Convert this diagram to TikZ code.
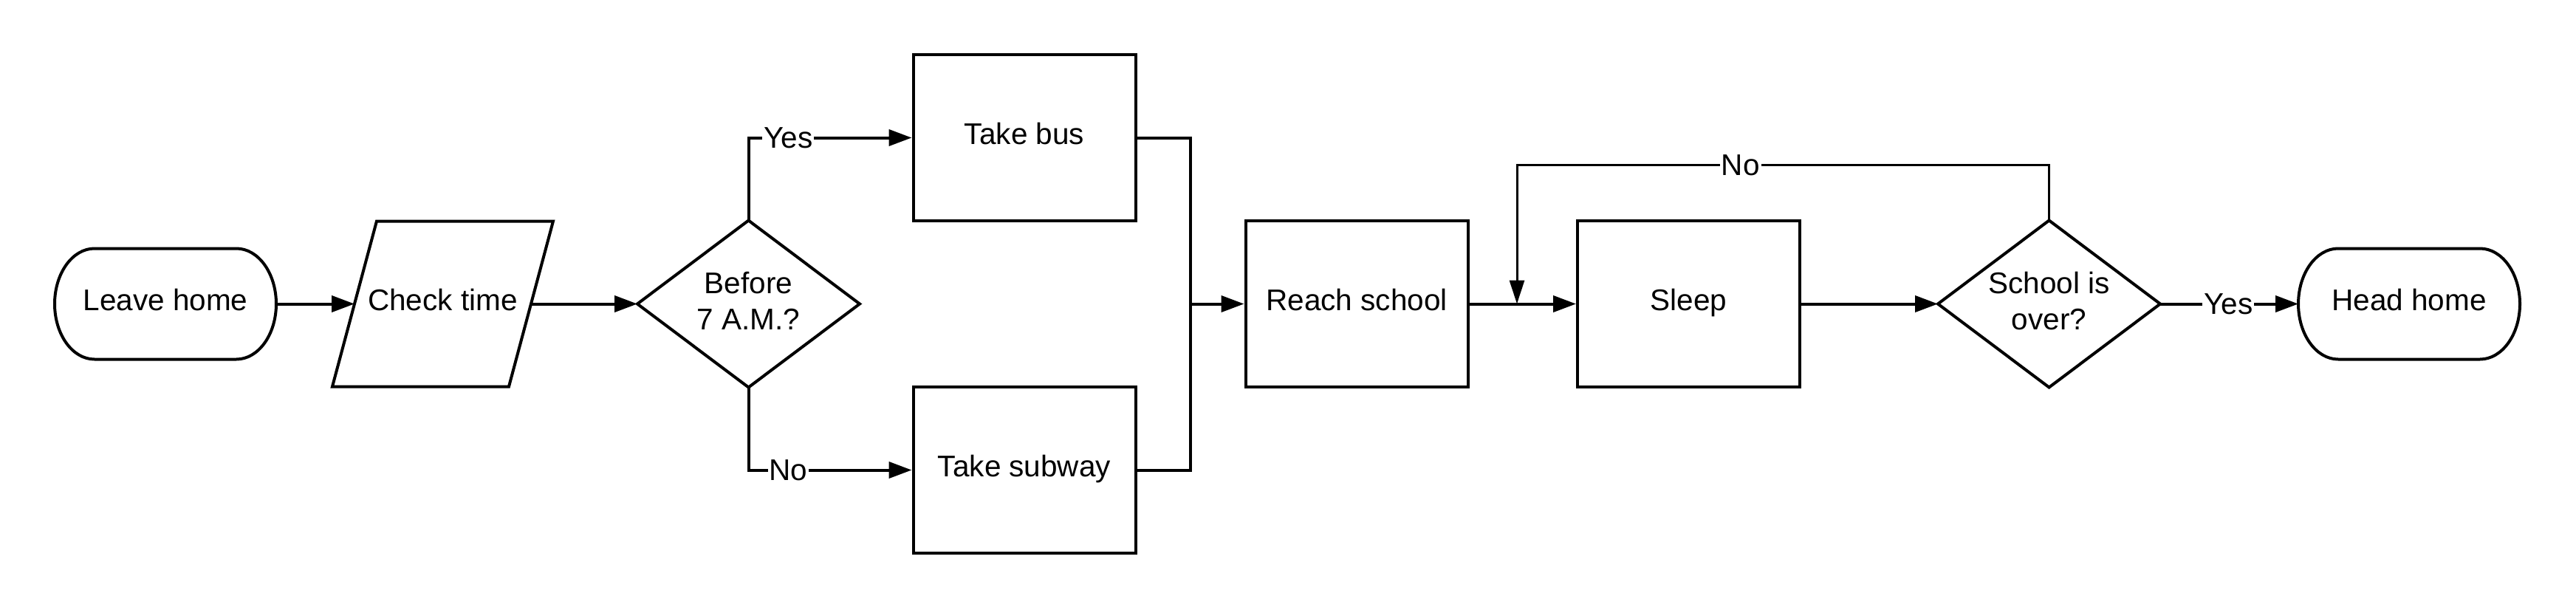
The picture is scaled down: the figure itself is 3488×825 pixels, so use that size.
\documentclass[tikz,border=0pt]{standalone}
\usepackage{fontspec}
\setmainfont{Liberation Sans}
\usetikzlibrary{arrows.meta}
\begin{document}
\begin{tikzpicture}[x=1pt,y=1pt,
  every node/.style={font=\fontsize{40.5}{49}\selectfont},
  base/.style={draw=black,line width=4pt,line join=miter},
  procbox/.style={base,rectangle,minimum width=301pt,minimum height=225pt,inner sep=0pt,align=center,text height=29.5pt,text depth=12pt},
  termbox/.style={rectangle,minimum width=300pt,minimum height=150pt,inner sep=0pt,outer sep=0pt,text height=29.5pt,text depth=12pt},
  iobox/.style={rectangle,minimum width=239pt,minimum height=224pt,inner sep=0pt,outer sep=0pt,text height=29.5pt,text depth=12pt},
  decbox/.style={rectangle,minimum width=301pt,minimum height=226pt,inner sep=0pt,outer sep=0pt,align=center,text depth=9pt},
  conn/.style={line width=4pt,-{Triangle[length=31pt,width=22pt]}},
  loopconn/.style={line width=3pt,-{Triangle[length=32pt,width=20pt]}},
  plain/.style={line width=4pt},
  lbl/.style={fill=white,inner sep=2pt}
]
\useasboundingbox (0,0) rectangle (3488,-825);

% nodes
\node[termbox] (lh) at (224,-411.5) {Leave home};
\node[iobox] (ct) at (599.5,-411.5) {Check time};
\node[decbox] (d1) at (1013.5,-411.5) {Before\\7 A.M.?};
\node[procbox] (bus) at (1387,-186.5) {Take bus};
\node[procbox] (sub) at (1387,-636.5) {Take subway};
\coordinate (merge) at (1612,-411.5);
\node[procbox] (rs) at (1837,-411.5) {Reach school};
\coordinate (lp) at (2054,-411.5);
\node[procbox] (sl) at (2286.5,-411.5) {Sleep};
\node[decbox] (d2) at (2774.5,-411.5) {School is\\over?};
\node[termbox] (hh) at (3262,-411.5) {Head home};

% terminal outlines
\draw[base] ([xshift=54pt]lh.north west) -- ([xshift=-54pt]lh.north east)
  arc[start angle=90,end angle=-90,x radius=54pt,y radius=75pt]
  -- ([xshift=54pt]lh.south west)
  arc[start angle=270,end angle=90,x radius=54pt,y radius=75pt] -- cycle;
\draw[base] ([xshift=54pt]hh.north west) -- ([xshift=-54pt]hh.north east)
  arc[start angle=90,end angle=-90,x radius=54pt,y radius=75pt]
  -- ([xshift=54pt]hh.south west)
  arc[start angle=270,end angle=90,x radius=54pt,y radius=75pt] -- cycle;

% parallelogram outline
\draw[base] ([xshift=-30pt]ct.south west) -- ([xshift=30pt]ct.north west)
  -- ([xshift=30pt]ct.north east) -- ([xshift=-30pt]ct.south east) -- cycle;

% diamond outlines
\draw[base] (d1.north) -- (d1.east) -- (d1.south) -- (d1.west) -- cycle;
\draw[base] (d2.north) -- (d2.east) -- (d2.south) -- (d2.west) -- cycle;

% connectors
\draw[conn] (lh.east) -- (ct.west);
\draw[conn] (ct.east) -- (d1.west);
\draw[conn] (d1.north) |- node[lbl,pos=0.622] {Yes} (bus.west);
\draw[conn] (d1.south) |- node[lbl,pos=0.622] {No} (sub.west);
\draw[plain] (bus.east) -| (merge);
\draw[plain] (sub.east) -| (merge);
\draw[conn] (merge) -- (rs.west);
\draw[conn] (rs.east) -- (sl.west);
\draw[conn] (sl.east) -- (d2.west);
\draw[conn] (d2.east) -- node[lbl,pos=0.493] {Yes} (hh.west);
\draw[loopconn] (d2.north) -- ++(0,75) -| node[lbl,pos=0.29] {No} (lp);
\end{tikzpicture}
\end{document}
